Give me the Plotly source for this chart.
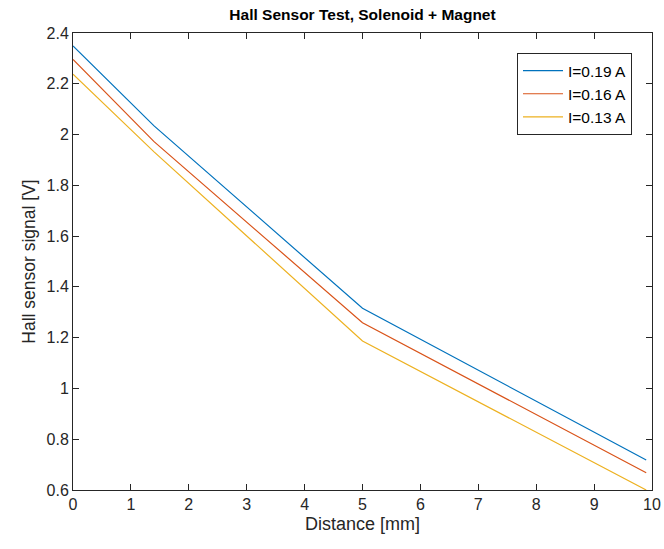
import plotly.graph_objects as go

distance = [0, 1.4, 5, 9.9]
sig_019 = [2.349, 2.034, 1.316, 0.718]
sig_016 = [2.296, 1.972, 1.259, 0.668]
sig_013 = [2.238, 1.932, 1.187, 0.600]
labels = ["I=0.19 A", "I=0.16 A", "I=0.13 A"]
colors = ["#0072BD", "#D95319", "#EDB120"]

fig = go.Figure()
for ys, name, c in zip([sig_019, sig_016, sig_013], labels, colors):
    fig.add_trace(go.Scatter(x=distance, y=ys, mode="lines", name=name,
                             line=dict(color=c, width=1.2)))

font_fam = "Liberation Sans, Arial"
axis_common = dict(showgrid=False, zeroline=False, showline=True, linecolor="#262626",
                   linewidth=1, mirror="ticks", ticks="inside", ticklen=6, tickcolor="#262626",
                   automargin=False, ticklabeloverflow="allow",
                   tickfont=dict(family=font_fam, size=16, color="#262626"))
fig.update_layout(
    width=664, height=549,
    margin=dict(l=73, r=12, t=33, b=59),
    paper_bgcolor="white", plot_bgcolor="white",
    title=dict(text="<b>Hall Sensor Test, Solenoid + Magnet</b>", x=0.5, xref="paper",
               xanchor="center", y=1 - 15/549, yanchor="middle",
               font=dict(family=font_fam, size=15.5, color="black")),
    xaxis=dict(range=[0, 10], dtick=1, title=dict(text="Distance [mm]", standoff=5,
               font=dict(family=font_fam, size=18, color="#262626")), **axis_common),
    yaxis=dict(range=[0.6, 2.4], dtick=0.2, title=dict(text="Hall sensor signal [V]", standoff=6,
               font=dict(family=font_fam, size=17.5, color="#262626")), **axis_common),
    legend=dict(x=1 - 20/579, y=1 - 20/457, xanchor="right", yanchor="top", bordercolor="#262626",
                borderwidth=1, bgcolor="white",
                font=dict(family=font_fam, size=15.5, color="black"),
                tracegroupgap=0, itemwidth=40),
    showlegend=True,
)
fig.write_html("out.html")
